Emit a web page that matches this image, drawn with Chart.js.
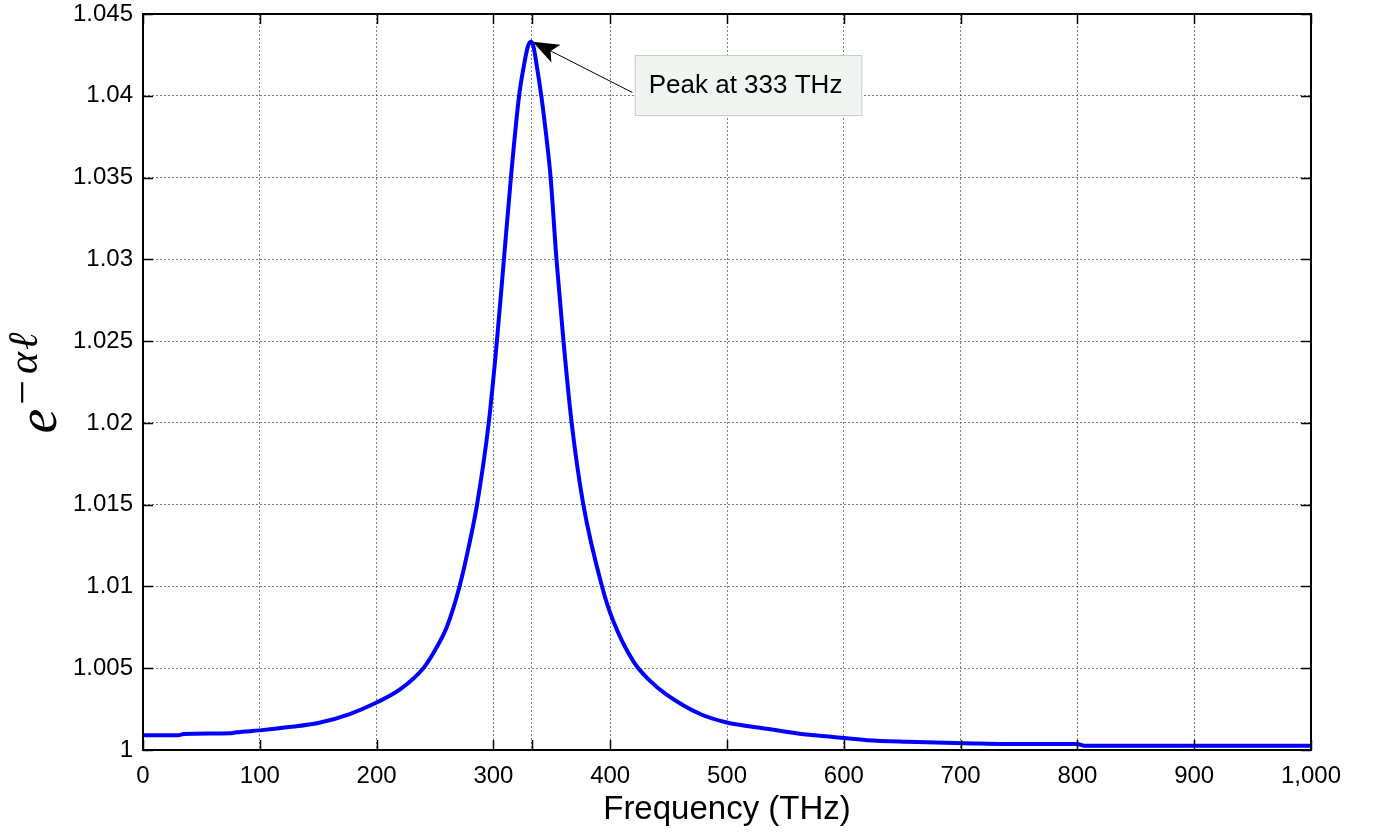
<!DOCTYPE html>
<html>
<head>
<meta charset="utf-8">
<script src="https://cdn.jsdelivr.net/npm/chart.js@4.4.1/dist/chart.umd.min.js"></script>
<style>
    html, body { margin: 0; padding: 0; background: #fff; }
    #wrap { width: 1374px; height: 835px; position: relative; }
</style>
</head>
<body>
<div id="wrap"><canvas id="grafica"></canvas></div>
<script>
// Datos
const frequencies = [0, 30, 35, 75, 80, 100, 125, 150, 177, 200, 220, 240, 250, 260, 271, 280, 286, 296, 303, 309, 315, 322, 326, 329.5, 332, 334, 337, 341, 345, 349, 354, 360, 367, 377, 393, 402, 420, 433, 448, 477, 499, 534, 562, 591, 620, 654, 711, 734, 800, 806, 1000];
const transmission = [1.0009, 1.0009, 1.00098, 1.00102, 1.00108, 1.0012, 1.0014, 1.00165, 1.0022, 1.0029, 1.0037, 1.0050, 1.0061, 1.0075, 1.0100, 1.0128, 1.0150, 1.0200, 1.0250, 1.0300, 1.0350, 1.0400, 1.0418, 1.0430, 1.0433, 1.0431, 1.0419, 1.0400, 1.0377, 1.0350, 1.0300, 1.0250, 1.0200, 1.0150, 1.0100, 1.0080, 1.0054, 1.0043, 1.0034, 1.0022, 1.0017, 1.0013, 1.0010, 1.0008, 1.0006, 1.0005, 1.0004, 1.00037, 1.00036, 1.00026, 1.00026];
const xTicks = [0, 100, 200, 300, 400, 500, 600, 700, 800, 900, 1000];
const yTicks = [1, 1.005, 1.01, 1.015, 1.02, 1.025, 1.03, 1.035, 1.04, 1.045];
const peakFreq = 333;
const peakLabel = 'Peak at 333 THz';
const xTitle = 'Frequency (THz)';

// Posicion de la caja de texto (en unidades de los ejes)
const nota = { x0: 421, x1: 615, y0: 1.04249, y1: 1.03882, tailX: 419, tailY: 1.0402 };

const sans = '"Liberation Sans", Arial, Helvetica, sans-serif';
const serif = '"Liberation Serif", "DejaVu Serif", "Times New Roman", serif';

const puntos = frequencies.map((f, i) => ({ x: f, y: transmission[i] }));
let iPeak = 0;
transmission.forEach((v, i) => { if (v > transmission[iPeak]) iPeak = i; });

// Ticks hacia dentro y caja completa, estilo MATLAB
const ejesMatlab = {
    id: 'ejesMatlab',
    afterDatasetsDraw(chart) {
        const { ctx, chartArea: a, scales: { x, y } } = chart;
        ctx.save();
        ctx.strokeStyle = '#000';
        ctx.lineWidth = 1.5;
        ctx.beginPath();
        x.ticks.forEach(t => {
            const px = Math.round(x.getPixelForValue(t.value)) + 0.5;
            ctx.moveTo(px, a.bottom); ctx.lineTo(px, a.bottom - 10);
            ctx.moveTo(px, a.top); ctx.lineTo(px, a.top + 10);
        });
        y.ticks.forEach(t => {
            const py = Math.round(y.getPixelForValue(t.value)) + 0.5;
            ctx.moveTo(a.left, py); ctx.lineTo(a.left + 10, py);
            ctx.moveTo(a.right, py); ctx.lineTo(a.right - 10, py);
        });
        ctx.stroke();
        ctx.lineWidth = 2;
        ctx.strokeRect(a.left, a.top, a.right - a.left, a.bottom - a.top);
        ctx.restore();
    }
};

// Nota con flecha hacia el pico
const notaPico = {
    id: 'notaPico',
    afterDraw(chart) {
        const { ctx, scales: { x, y } } = chart;
        const bx0 = x.getPixelForValue(nota.x0), bx1 = x.getPixelForValue(nota.x1);
        const by0 = y.getPixelForValue(nota.y0), by1 = y.getPixelForValue(nota.y1);
        const tx = x.getPixelForValue(nota.tailX), ty = y.getPixelForValue(nota.tailY);
        const hx = x.getPixelForValue(frequencies[iPeak]) + 2, hy = y.getPixelForValue(transmission[iPeak]);
        ctx.save();
        // linea
        ctx.strokeStyle = '#000';
        ctx.lineWidth = 1;
        ctx.beginPath();
        ctx.moveTo(tx, ty);
        ctx.lineTo(hx, hy);
        ctx.stroke();
        // punta
        const ang = Math.atan2(hy - ty, hx - tx);
        const len = 26, half = 10;
        const bx = hx - len * Math.cos(ang), byy = hy - len * Math.sin(ang);
        ctx.fillStyle = '#000';
        ctx.beginPath();
        ctx.moveTo(hx, hy);
        ctx.lineTo(bx + half * Math.sin(ang), byy - half * Math.cos(ang));
        ctx.lineTo(bx + 6 * Math.cos(ang), byy + 6 * Math.sin(ang));
        ctx.lineTo(bx - half * Math.sin(ang), byy + half * Math.cos(ang));
        ctx.closePath();
        ctx.fill();
        // caja
        ctx.fillStyle = '#f0f5f1';
        ctx.fillRect(bx0, by0, bx1 - bx0, by1 - by0);
        ctx.strokeStyle = '#c8c8c8';
        ctx.lineWidth = 1;
        ctx.strokeRect(bx0 + 0.5, by0 + 0.5, bx1 - bx0, by1 - by0);
        ctx.fillStyle = '#000';
        ctx.font = '26px ' + sans;
        ctx.textBaseline = 'middle';
        ctx.fillText(peakLabel, bx0 + 14, (by0 + by1) / 2 + 1);
        ctx.restore();
    }
};

// Titulo del eje y: e^{-alpha l}
const tituloY = {
    id: 'tituloY',
    afterDraw(chart) {
        const { ctx, chartArea: a } = chart;
        ctx.save();
        const fE = 'italic 56px ' + serif, fM = '44px ' + serif, fS = 'italic 42px ' + serif;
        ctx.font = fE; const wE = ctx.measureText('e').width;
        ctx.font = fM; const wM = ctx.measureText('\u2212').width;
        ctx.font = fS; const wA = ctx.measureText('\u03b1').width;
        const wL = ctx.measureText('\u2113').width;
        const total = wE + 4 + wM + 6 + wA + 2 + wL;
        const cy = (a.top + a.bottom) / 2 + 1;
        ctx.translate(56, cy + total / 2);
        ctx.rotate(-Math.PI / 2);
        ctx.fillStyle = '#000';
        ctx.textBaseline = 'alphabetic';
        let px = 0;
        ctx.font = fE; ctx.fillText('e', px, 0); px += wE + 4;
        ctx.font = fM; ctx.fillText('\u2212', px, -19); px += wM + 6;
        ctx.font = fS; ctx.fillText('\u03b1', px, -19); px += wA + 2;
        ctx.fillText('\u2113', px, -19);
        ctx.restore();
    }
};

const gridStyle = { color: 'rgba(70,70,70,0.7)', lineWidth: 1, drawTicks: false };

new Chart(document.getElementById('grafica').getContext('2d'), {
    type: 'line',
    data: {
        datasets: [{
            data: puntos,
            borderColor: '#0000ff',
            borderWidth: 4,
            pointRadius: 0,
            fill: false,
            cubicInterpolationMode: 'monotone'
        }]
    },
    options: {
        responsive: true,
        maintainAspectRatio: false,
        animation: false,
        layout: { padding: { left: 0, top: 14, right: 63, bottom: 0 } },
        plugins: { legend: { display: false }, tooltip: { enabled: false } },
        scales: {
            x: {
                type: 'linear',
                min: 0,
                max: 1000,
                afterBuildTicks: s => { s.ticks = xTicks.concat([peakFreq]).sort((p, q) => p - q).map(v => ({ value: v })); },
                afterFit: s => { s.height = 85; s.paddingLeft = 0; s.paddingRight = 0; },
                grid: gridStyle,
                border: { display: true, color: '#000', width: 2, dash: [2, 2] },
                ticks: {
                    autoSkip: false,
                    maxRotation: 0,
                    padding: 12,
                    color: '#000',
                    font: { family: sans, size: 24 },
                    callback: v => v === peakFreq ? '' : v.toLocaleString('en-US')
                },
                title: {
                    display: true,
                    text: xTitle,
                    color: '#000',
                    font: { family: sans, size: 33 },
                    padding: { top: 0, bottom: 5 }
                }
            },
            y: {
                type: 'linear',
                min: 1,
                max: 1.045,
                afterBuildTicks: s => { s.ticks = yTicks.map(v => ({ value: v })); },
                afterFit: s => { s.width = 143; s.paddingTop = 0; s.paddingBottom = 0; },
                grid: gridStyle,
                border: { display: true, color: '#000', width: 2, dash: [2, 2] },
                ticks: {
                    padding: 10,
                    color: '#000',
                    font: { family: sans, size: 24 },
                    callback: v => String(parseFloat(v.toFixed(3)))
                }
            }
        }
    },
    plugins: [ejesMatlab, notaPico, tituloY]
});
</script>
</body>
</html>
